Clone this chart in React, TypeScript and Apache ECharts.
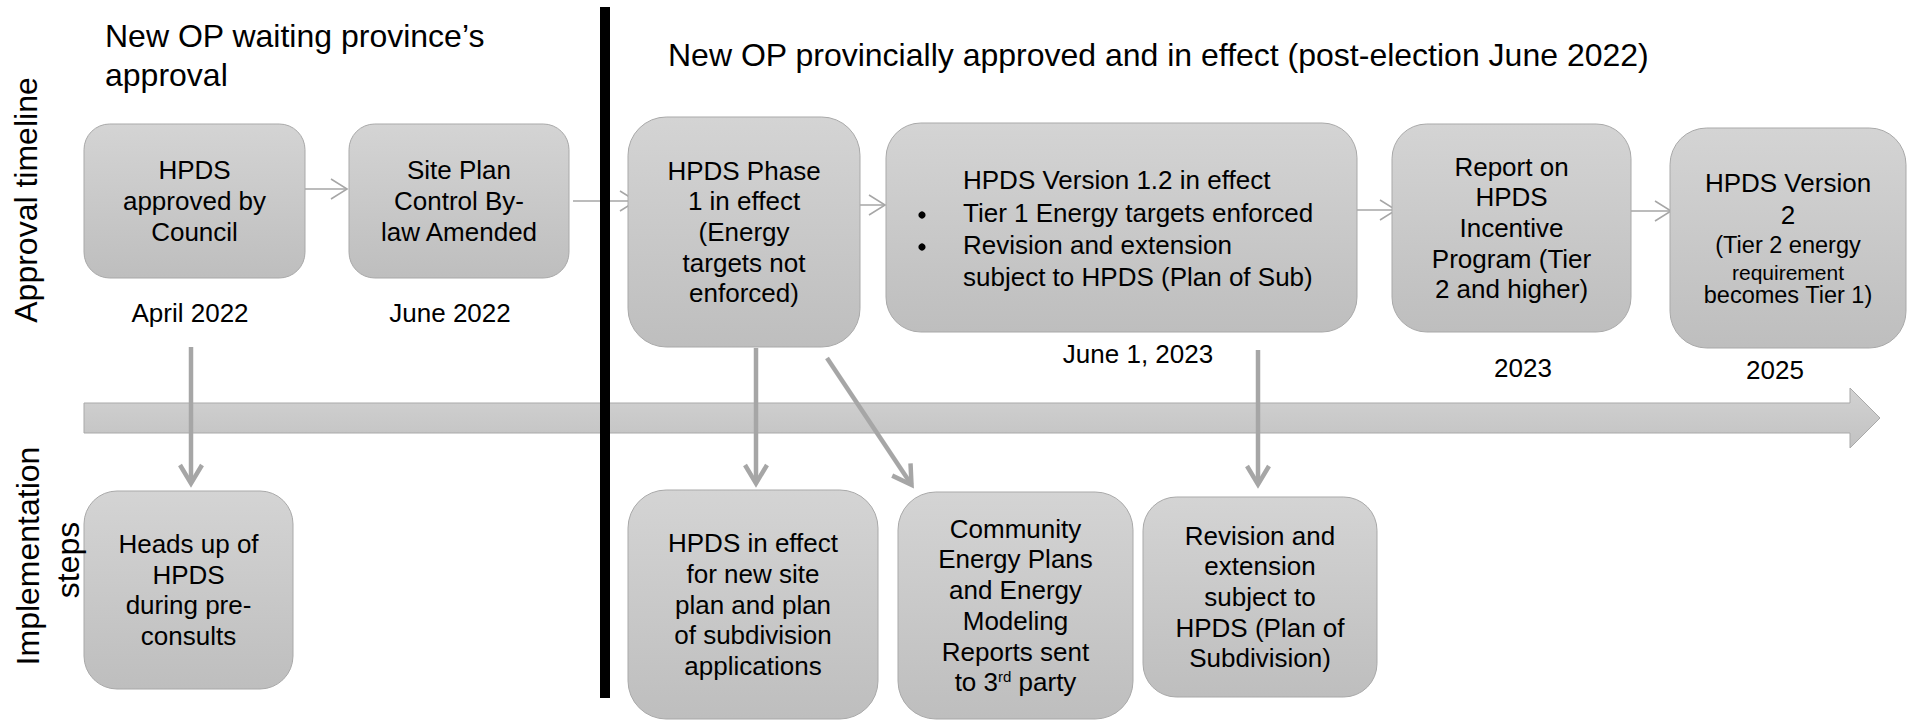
import React, { useEffect, useRef } from "react";
import * as echarts from "echarts";

// ---- content ----
const phaseTitles = [
  ["New OP waiting province’s", "approval"],
  ["New OP provincially approved and in effect (post-election June 2022)"],
];
const rowLabels = ["Approval timeline", "Implementation", "steps"];
const approvalSteps: string[][] = [
  ["HPDS", "approved by", "Council"],
  ["Site Plan", "Control By-", "law Amended"],
  ["HPDS Phase", "1 in effect", "(Energy", "targets not", "enforced)"],
  ["HPDS Version 1.2 in effect", "Tier 1 Energy targets enforced", "Revision and extension", "subject to HPDS (Plan of Sub)"],
  ["Report on", "HPDS", "Incentive", "Program (Tier", "2 and higher)"],
  ["HPDS Version", "2", "(Tier 2 energy", "requirement", "becomes Tier 1)"],
];
const approvalDates = ["April 2022", "June 2022", "", "June 1, 2023", "2023", "2025"];
const implementationSteps: string[][] = [
  ["Heads up of", "HPDS", "during pre-", "consults"],
  ["HPDS in effect", "for new site", "plan and plan", "of subdivision", "applications"],
  ["Community", "Energy Plans", "and Energy", "Modeling", "Reports sent", "to 3{s|rd} party"],
  ["Revision and", "extension", "subject to", "HPDS (Plan of", "Subdivision)"],
];
const bulletFlags = [false, true, true, false];
const version2Sizes = [26, 26, 23.5, 21, 23.5];

// ---- layout ----
const FONT = "'Liberation Sans', Arial, Helvetica, sans-serif";
const topRects = [
  [84, 124, 221, 154],
  [349, 124, 220, 154],
  [628, 117, 232, 230],
  [886, 123, 471, 209],
  [1392, 124, 239, 208],
  [1670, 128, 236, 220],
];
const bottomRects = [
  [84, 491, 209, 198],
  [628, 490, 250, 229],
  [898, 492, 235, 227],
  [1143, 497, 234, 200],
];
const datePos = [[190, 313], [450, 313], null, [1138, 354], [1523, 368], [1775, 370]];
const topArrows = [
  [305, 189, 348, 189],
  [573, 201, 637, 201],
  [845, 205, 886, 205],
  [1356, 210, 1397, 210],
  [1631, 211, 1672, 211],
];
const downArrows = [
  [191, 347, 191, 486],
  [756, 348, 756, 486],
  [827, 358, 913, 487],
  [1258, 350, 1258, 487],
];
const version2Y = [183, 215, 245, 272, 295];
const version12Y = [180, 213, 245, 277];

function txt(text: string, x: number, y: number, size: number, align = "center", extra: any = {}) {
  return {
    type: "text",
    x,
    y,
    silent: true,
    style: {
      text,
      fontSize: size,
      fontFamily: FONT,
      fill: "#000",
      align,
      textAlign: align,
      verticalAlign: "middle",
      textVerticalAlign: "middle",
      ...extra,
    },
  };
}

function boxGrad() {
  return new echarts.graphic.LinearGradient(0, 0, 0, 1, [
    { offset: 0, color: "#d4d4d4" },
    { offset: 1, color: "#bebebe" },
  ]);
}

function roundBox(r: number[]) {
  const [x, y, w, h] = r;
  return {
    type: "rect",
    silent: true,
    shape: { x, y, width: w, height: h, r: Math.min(w, h) / 6 },
    style: { fill: boxGrad(), stroke: "#a9a9a9", lineWidth: 1 },
  };
}

function arrowEls(a: number[], w: number, hl: number, hw: number, color: string) {
  const [x1, y1, x2, y2] = a;
  const dx = x2 - x1, dy = y2 - y1;
  const L = Math.hypot(dx, dy);
  const ux = dx / L, uy = dy / L, px = -uy, py = ux;
  const bx = x2 - ux * hl, by = y2 - uy * hl;
  return [
    {
      type: "line",
      silent: true,
      shape: { x1, y1, x2: x2 - ux * w * 0.6, y2: y2 - uy * w * 0.6 },
      style: { stroke: color, lineWidth: w },
    },
    {
      type: "polyline",
      silent: true,
      shape: { points: [[bx + px * hw, by + py * hw], [x2 - ux * w * 0.6, y2 - uy * w * 0.6], [bx - px * hw, by - py * hw]] },
      style: { stroke: color, lineWidth: w, fill: null },
    },
  ];
}

function centeredLines(lines: string[], cx: number, cy: number, size = 26, lh = 30.7) {
  const n = lines.length;
  return lines.map((t, i) =>
    txt(t, cx, cy + (i - (n - 1) / 2) * lh, size, "center", {
      rich: { s: { fontSize: 15, fontFamily: FONT, fill: "#000", verticalAlign: "top" } },
    })
  );
}

function buildElements() {
  const els: any[] = [];
  // timeline band arrow
  els.push({
    type: "polygon",
    silent: true,
    shape: {
      points: [[84, 403], [1850, 403], [1850, 388], [1880, 418], [1850, 448], [1850, 433], [84, 433]],
    },
    style: {
      fill: new echarts.graphic.LinearGradient(0, 0, 0, 1, [
        { offset: 0, color: "#d2d2d2" },
        { offset: 1, color: "#c2c2c2" },
      ]),
      stroke: "#a9a9a9",
      lineWidth: 1,
    },
  });
  // connectors
  topArrows.forEach((a) => els.push(...arrowEls(a, 1.5, 17, 10, "#a6a6a6")));
  downArrows.forEach((a) => els.push(...arrowEls(a, 4.5, 21, 11, "#a6a6a6")));

  // top boxes
  approvalSteps.forEach((lines, i) => {
    const r = topRects[i];
    els.push(roundBox(r));
    const cx = r[0] + r[2] / 2;
    const cy = r[1] + r[3] / 2;
    if (i === 3) {
      lines.forEach((t, j) => {
        els.push(txt(t, 963, version12Y[j], 26, "left"));
        if (bulletFlags[j]) {
          els.push({ type: "circle", silent: true, shape: { cx: 922, cy: version12Y[j] + 2, r: 3.6 }, style: { fill: "#000" } });
        }
      });
    } else if (i === 5) {
      lines.forEach((t, j) => els.push(txt(t, 1788, version2Y[j], version2Sizes[j])));
    } else {
      els.push(...centeredLines(lines, cx, cy));
    }
  });
  // dates
  approvalDates.forEach((d, i) => {
    const p = datePos[i];
    if (d && p) els.push(txt(d, p[0], p[1], 26));
  });
  // bottom boxes
  implementationSteps.forEach((lines, i) => {
    const r = bottomRects[i];
    els.push(roundBox(r));
    els.push(...centeredLines(lines, r[0] + r[2] / 2, r[1] + r[3] / 2));
  });
  // phase titles
  els.push(txt(phaseTitles[0][0], 105, 36, 32, "left"));
  els.push(txt(phaseTitles[0][1], 105, 75, 32, "left"));
  els.push(txt(phaseTitles[1][0], 668, 55, 32, "left"));
  // row labels (vertical)
  els.push({ ...txt(rowLabels[0], 26, 200, 32), rotation: Math.PI / 2 });
  els.push({ ...txt(rowLabels[1], 28, 556, 32), rotation: Math.PI / 2 });
  els.push({ ...txt(rowLabels[2], 68, 560, 32), rotation: Math.PI / 2 });
  // separator bar
  els.push({
    type: "rect",
    silent: true,
    shape: { x: 600, y: 7, width: 10, height: 691 },
    style: { fill: "#000" },
  });
  return els;
}

export default function App() {
  const ref = useRef<HTMLDivElement>(null);
  useEffect(() => {
    if (!ref.current) return;
    const chart = echarts.init(ref.current, undefined, { renderer: "svg" });
    chart.setOption({
      animation: false,
      backgroundColor: "#ffffff",
      graphic: { elements: buildElements() },
    });
    return () => chart.dispose();
  }, []);
  return (
    <div
      ref={ref}
      style={{ position: "absolute", left: 0, top: 0, width: 1911, height: 720, background: "#fff" }}
    />
  );
}
